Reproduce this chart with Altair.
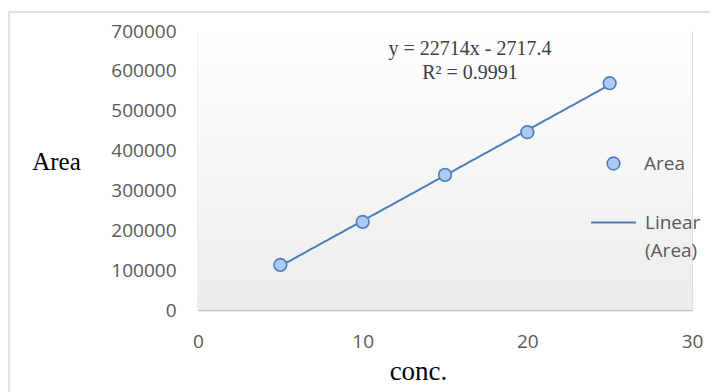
import altair as alt
import pandas as pd

# ---- data ----
conc = [5, 10, 15, 20, 25]
area = [113000, 221000, 339000, 446000, 569000]
x_ticks = [0, 10, 20, 30]
y_ticks = [0, 100000, 200000, 300000, 400000, 500000, 600000, 700000]
equation_lines = ["y = 22714x - 2717.4", "R² = 0.9991"]
series_name = "Area"
trend_name = "Linear (Area)"

df = pd.DataFrame({"conc": conc, "area": area})

W, H = 494, 279
LINE_COLOR = "#4a7ebb"
FILL_COLOR = "#aecaf3"
LABEL_FONT = "Open Sans"
SERIF = "Liberation Serif"

xscale = alt.Scale(domain=[0, 30], nice=False, zero=True)
yscale = alt.Scale(domain=[0, 700000], nice=False)

x_axis = alt.Axis(
    values=x_ticks, title="conc.", grid=False, ticks=False,
    domainColor="#bfbfbf", domainWidth=1.5, labelOverlap=False, labelFlush=False,
    labelFont=LABEL_FONT, labelFontSize=19, labelColor="#595959", labelPadding=22,
    titleFont=SERIF, titleFontSize=27, titleFontWeight="normal", titleColor="#000000",
    titleX=220, titleY=61, titleBaseline="middle", titleAlign="center",
)
y_axis = alt.Axis(
    values=y_ticks, format="d", title="Area", grid=False, ticks=False,
    domainColor="#bfbfbf", domainWidth=1.5, labelOverlap=False, labelFlush=False,
    labelSeparation=0,
    labelFont=LABEL_FONT, labelFontSize=19, labelColor="#595959", labelPadding=22,
    titleFont=SERIF, titleFontSize=25, titleFontWeight="normal", titleColor="#000000",
    titleAngle=0, titleX=-142, titleY=130, titleBaseline="middle", titleAlign="center",
)

one = alt.Data(values=[{}])

background = alt.Chart(one).mark_rect(
    color=alt.Gradient(
        gradient="linear",
        stops=[alt.GradientStop(color="#ffffff", offset=0),
               alt.GradientStop(color="#ececec", offset=1)],
        x1=0, x2=0, y1=0, y2=1,
    )
).encode(x=alt.value(0), x2=alt.value(W), y=alt.value(0), y2=alt.value(H))

border = alt.Chart(one).mark_rect(
    fillOpacity=0, stroke="#d9d9d9", strokeWidth=1.5
).encode(x=alt.value(-189), x2=alt.value(540), y=alt.value(-19), y2=alt.value(400))

base = alt.Chart(df)

trend = base.transform_regression(
    "conc", "area", extent=[5, 25]
).transform_calculate(
    series=f"'{trend_name}'"
).mark_line(color=LINE_COLOR, strokeWidth=2).encode(
    x=alt.X("conc:Q", scale=xscale, axis=x_axis),
    y=alt.Y("area:Q", scale=yscale, axis=y_axis),
    strokeDash=alt.StrokeDash(
        "series:N",
        scale=alt.Scale(domain=[trend_name], range=[[1, 0]]),
        legend=alt.Legend(
            title=None, orient="none", legendX=392, legendY=168,
            symbolType="M-1,0H1", symbolSize=2025,
            symbolStrokeColor=LINE_COLOR, symbolStrokeWidth=2,
            labelFont=LABEL_FONT, labelFontSize=19, labelColor="#595959",
            labelOffset=8, labelLimit=200, padding=0,
            labelExpr="split(datum.label, ' ')",
        ),
    ),
)

points = base.transform_calculate(
    series=f"'{series_name}'"
).mark_circle(
    size=160, stroke=LINE_COLOR, strokeWidth=1.6, opacity=1
).encode(
    x=alt.X("conc:Q", scale=xscale, axis=x_axis),
    y=alt.Y("area:Q", scale=yscale, axis=y_axis),
    color=alt.Color(
        "series:N",
        scale=alt.Scale(domain=[series_name], range=[FILL_COLOR]),
        legend=alt.Legend(
            title=None, orient="none", legendX=406, legendY=123,
            symbolType="circle", symbolSize=160,
            symbolStrokeColor=LINE_COLOR, symbolStrokeWidth=1.6,
            symbolFillColor=FILL_COLOR, symbolOpacity=1,
            labelFont=LABEL_FONT, labelFontSize=19, labelColor="#595959",
            labelOffset=21, padding=0,
        ),
    ),
)

eq = alt.Chart(alt.Data(values=[{"t": equation_lines}])).mark_text(
    font=SERIF, fontSize=20, color="#404040", align="center",
    baseline="middle", lineHeight=24,
).encode(x=alt.value(272), y=alt.value(18), text="t:N")

chart = alt.layer(border, background, trend, points, eq).properties(
    width=W, height=H,
    autosize=alt.AutoSizeParams(type="none"),
    padding={"left": 190, "top": 23, "right": 18, "bottom": 90},
).configure_view(stroke=None).configure_axis(
    labelOverlap=False
).configure(
    background="#ffffff",
    style={"guide-label": {"lineHeight": 28}},
)

chart.save("out.html", embed_options={"renderer": "svg", "actions": False})
